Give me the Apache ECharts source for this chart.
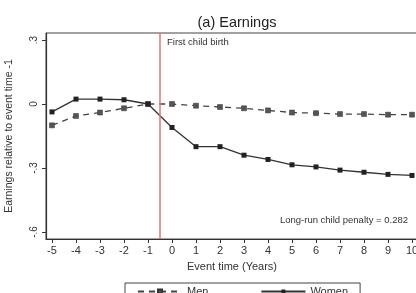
<!DOCTYPE html>
<html>
<head>
<meta charset="utf-8">
<script src="https://cdn.jsdelivr.net/npm/echarts@6/dist/echarts.min.js"></script>
<style>
  html, body { margin: 0; padding: 0; background: #fff; }
  #chart { width: 416px; height: 293px; }
</style>
</head>
<body>
<div id="chart"></div>
<script>
// event time in years, relative to first child birth
const eventTime = [-5, -4, -3, -2, -1, 0, 1, 2, 3, 4, 5, 6, 7, 8, 9, 10];
const men = [-0.10, -0.056, -0.04, -0.02, 0, 0, -0.008, -0.014, -0.02, -0.03, -0.04, -0.043, -0.047, -0.047, -0.05, -0.05];
const women = [-0.037, 0.023, 0.023, 0.02, 0, -0.11, -0.2, -0.2, -0.24, -0.26, -0.285, -0.295, -0.31, -0.32, -0.33, -0.335];
const yTicks = [-0.6, -0.3, 0, 0.3];
const birthLine = -0.5;

const chart = echarts.init(document.getElementById('chart'));
const font = 'Liberation Sans, Arial, sans-serif';
const ink = '#333';

function fmtY(v) {
  if (v === 0) return '0';
  return (v < 0 ? '-' : '') + String(Math.abs(v).toFixed(1)).replace(/^0/, '');
}

chart.setOption({
  backgroundColor: '#fff',
  animation: false,
  textStyle: { fontFamily: font },
  title: {
    text: '(a) Earnings',
    left: 232,
    textAlign: 'center',
    top: 10,
    textStyle: { fontSize: 14.5, fontWeight: 'normal', color: '#222', fontFamily: font }
  },
  grid: {
    left: 46, right: -2, top: 33, bottom: 54,
    outerBoundsMode: 'none',
    show: true, borderColor: '#444', borderWidth: 1
  },
  xAxis: {
    type: 'value',
    min: -5.25,
    max: 10.25,
    name: 'Event time (Years)',
    nameLocation: 'middle',
    nameGap: 22,
    nameTextStyle: { fontSize: 11, color: ink },
    axisLine: { show: true, onZero: false, lineStyle: { color: ink, width: 1.2 } },
    axisTick: { show: true, length: 4, lineStyle: { color: ink }, customValues: eventTime },
    axisLabel: { fontSize: 11, color: ink, margin: 6, customValues: eventTime, formatter: v => String(v) },
    splitLine: { show: false }
  },
  yAxis: {
    type: 'value',
    min: -0.633,
    max: 0.333,
    name: 'Earnings relative to event time -1',
    nameLocation: 'middle',
    nameGap: 31,
    nameTextStyle: { fontSize: 10.5, color: ink },
    axisLine: { show: true, onZero: false, lineStyle: { color: ink, width: 1.2 } },
    axisTick: { show: true, length: 4, lineStyle: { color: ink }, customValues: yTicks },
    axisLabel: { fontSize: 10, color: ink, rotate: 90, margin: 7, customValues: yTicks, formatter: fmtY },
    splitLine: { show: false }
  },
  legend: {
    top: 283,
    left: 125,
    width: 215,
    padding: [3, 12, 3, 12],
    itemGap: 52,
    itemWidth: 44,
    itemHeight: 5,
    borderColor: '#444',
    borderWidth: 1,
    textStyle: { fontSize: 11, color: ink, fontFamily: font },
    data: ['Men', 'Women']
  },
  graphic: [
    { type: 'text', left: 167, top: 37, style: { text: 'First child birth', fontSize: 9.5, fill: ink, fontFamily: font } },
    { type: 'text', right: 8, top: 215, style: { text: 'Long-run child penalty = 0.282', fontSize: 9.5, fill: ink, fontFamily: font } }
  ],
  series: [
    {
      name: 'Men',
      type: 'line',
      data: eventTime.map((t, i) => [t, men[i]]),
      symbol: 'rect',
      symbolSize: 5,
      itemStyle: { color: '#555', borderColor: '#333', borderWidth: 0.5 },
      lineStyle: { color: '#444', width: 1.3, type: [6, 5] },
      markLine: {
        silent: true,
        symbol: 'none',
        label: { show: false },
        lineStyle: { color: '#e8707a', width: 1.5, type: 'solid' },
        data: [{ xAxis: birthLine }]
      }
    },
    {
      name: 'Women',
      type: 'line',
      data: eventTime.map((t, i) => [t, women[i]]),
      symbol: 'rect',
      symbolSize: 5,
      itemStyle: { color: '#222' },
      lineStyle: { color: '#333', width: 1.3 }
    }
  ]
});
</script>
</body>
</html>
